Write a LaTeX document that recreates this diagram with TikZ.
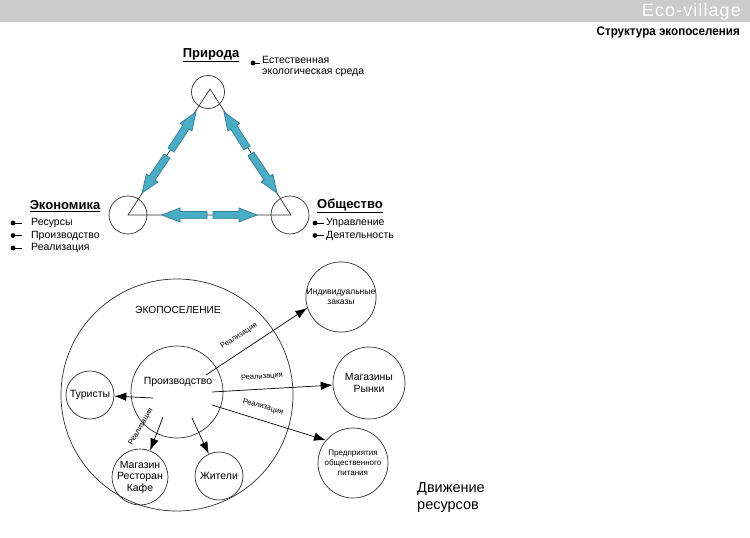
\documentclass[tikz,border=0pt]{standalone}
\usepackage{fontspec}
\setmainfont{Liberation Sans}
\usetikzlibrary{calc,arrows.meta}
\definecolor{headgray}{HTML}{CBCBCB}
\definecolor{arrfill}{HTML}{4AADC6}
\definecolor{arrline}{HTML}{2F7F95}
\definecolor{ink}{HTML}{303030}
\newcommand\blockarr[2]{%
  \coordinate (hb) at ($(#2)!18pt!(#1)$);
  \filldraw[blockarrow] ($(#1)!3.6pt!90:(#2)$) -- ($(hb)!3.6pt!90:(#2)$) -- ($(hb)!7pt!90:(#2)$) -- (#2) -- ($(hb)!7pt!-90:(#2)$) -- ($(hb)!3.6pt!-90:(#2)$) -- ($(#1)!3.6pt!-90:(#2)$) -- cycle;}
\tikzset{
  blockarrow/.style={fill=arrfill, draw=arrline, line width=0.7pt, line join=miter},
  circ/.style={circle, draw=ink, line width=0.7pt, inner sep=0pt, align=center},
  thinline/.style={draw=ink, line width=0.7pt},
  flow/.style={draw=black, line width=0.7pt, -{Latex[length=12pt,width=8.5pt]}},
  head/.style={font=\fontsize{13}{15}\selectfont\bfseries, inner sep=0pt},
  item/.style={font=\fontsize{10.5}{12}\selectfont, inner sep=0pt, anchor=west},
  txt/.style={font=\fontsize{10.5}{11.5}\selectfont, inner sep=0pt, align=center},
  small/.style={font=\fontsize{8.5}{10}\selectfont, inner sep=0pt, align=center},
  tiny/.style={font=\fontsize{7.5}{9}\selectfont, inner sep=0pt},
}
\begin{document}
\begin{tikzpicture}[x=1pt,y=-1pt]
\useasboundingbox (0,0) rectangle (750,538);
\fill[white] (0,0) rectangle (750,538);
% header
\fill[headgray] (0,0) rectangle (750,22);
\node[anchor=east, text=white, inner sep=0pt, font=\fontsize{18}{20}\selectfont\addfontfeature{LetterSpace=6}] (brand) at (741,11.5) {Eco-village};
\node[anchor=east, inner sep=0pt, font=\fontsize{12.5}{14}\selectfont\bfseries] (title) at (740,32) {\scalebox{0.93}[1]{Структура экопоселения}};

% triangle
\coordinate (apex) at (210,89);
\coordinate (vl) at (128,215);
\coordinate (vr) at (291,215);
\node[circ, minimum size=33pt] (ctop) at (208,92) {};
\node[circ, minimum size=38pt] (cleft) at (128,215) {};
\node[circ, minimum size=38pt] (cright) at (290,215) {};
\draw[thinline] (apex) -- (vl) -- (vr) -- cycle;

% block arrows
\coordinate (a1t) at (171,150); \coordinate (a1h) at (196,112);
\coordinate (a2t) at (167,156); \coordinate (a2h) at (142,193);
\coordinate (a3t) at (247,148); \coordinate (a3h) at (224,112);
\coordinate (a4t) at (251,154); \coordinate (a4h) at (277,193);
\coordinate (a5t) at (207,215); \coordinate (a5h) at (162,215);
\coordinate (a6t) at (213,215); \coordinate (a6h) at (257,215);
\blockarr{a1t}{a1h}
\blockarr{a2t}{a2h}
\blockarr{a3t}{a3h}
\blockarr{a4t}{a4h}
\blockarr{a5t}{a5h}
\blockarr{a6t}{a6h}

% headings
\node[head] (nat) at (211,55) {\underline{Природа}};
\node[head] (eco) at (65,206) {\underline{Экономика}};
\node[head] (soc) at (350,206) {\underline{Общество}};

% bullets Природа
\fill (253,63) circle (2.4);
\draw[line width=0.7pt] (253,63) -- (260,63);
\node[item] (n1) at (262,60) {Естественная};
\node[item] (n2) at (262,73) {экологическая среда};

% bullets Экономика
\foreach \yy/\tt in {223/Ресурсы, 235.5/Производство, 248/Реализация}{
  \fill (13,\yy) circle (2.4);
  \draw[line width=0.7pt] (13,\yy) -- (22,\yy);
  \node[item] at (31,\yy) {\tt};
}
% bullets Общество
\foreach \yy/\tt in {223/Управление, 235.5/Деятельность}{
  \fill (315,\yy) circle (2.4);
  \draw[line width=0.7pt] (315,\yy) -- (324,\yy);
  \node[item] at (326,\yy) {\tt};
}

% lower diagram
\node[circ, minimum size=232pt] (village) at (177,395) {};
\node[txt, font=\fontsize{10.2}{12}\selectfont] (villagetxt) at (178,310) {ЭКОПОСЕЛЕНИЕ};
\node[circ, minimum size=92pt] (prod) at (177,392) {};
\node[txt] (prodtxt) at (178,382) {Производство};
\node[circ, txt, minimum size=48pt] (tour) at (90,395) {Туристы};
\node[circ, txt, minimum size=50pt] (shop) at (140,477) {Магазин\\Ресторан\\Кафе};
\node[circ, txt, minimum size=48pt] (res) at (219,476) {Жители};
\node[circ, small, minimum size=70pt] (ind) at (341,297) {Индивидуальные\\заказы};
\node[circ, txt, minimum size=72pt] (mark) at (369,383) {Магазины\\Рынки};
\node[circ, small, font=\fontsize{8}{10}\selectfont, minimum size=70pt] (cater) at (353,463) {Предприятия\\общественного\\питания};

\coordinate (p1) at (153,398);
\coordinate (p2) at (163,417);
\coordinate (p3) at (192,418);
\coordinate (p4) at (206,375);
\coordinate (p5) at (212,392);
\coordinate (p6) at (212,405);
\draw[flow] (p1) -- (tour);
\draw[flow] (p2) -- (shop);
\draw[flow] (p3) -- (res);
\draw[flow] (p4) -- (ind.198);
\draw[flow] (p5) -- (mark);
\draw[flow] (p6) -- (cater.140);

\node[tiny, rotate=33] (r1) at (239,336) {Реализация};
\node[tiny, rotate=4] (r2) at (262,377) {Реализация};
\node[tiny, rotate=-16] (r3) at (263,407) {Реализация};
\node[tiny, rotate=60] (r4) at (141,427) {Реализация};

\node[anchor=west, inner sep=0pt, align=left, font=\fontsize{14.5}{17}\selectfont] (move) at (417,498) {Движение\\ресурсов};
\end{tikzpicture}
\end{document}
